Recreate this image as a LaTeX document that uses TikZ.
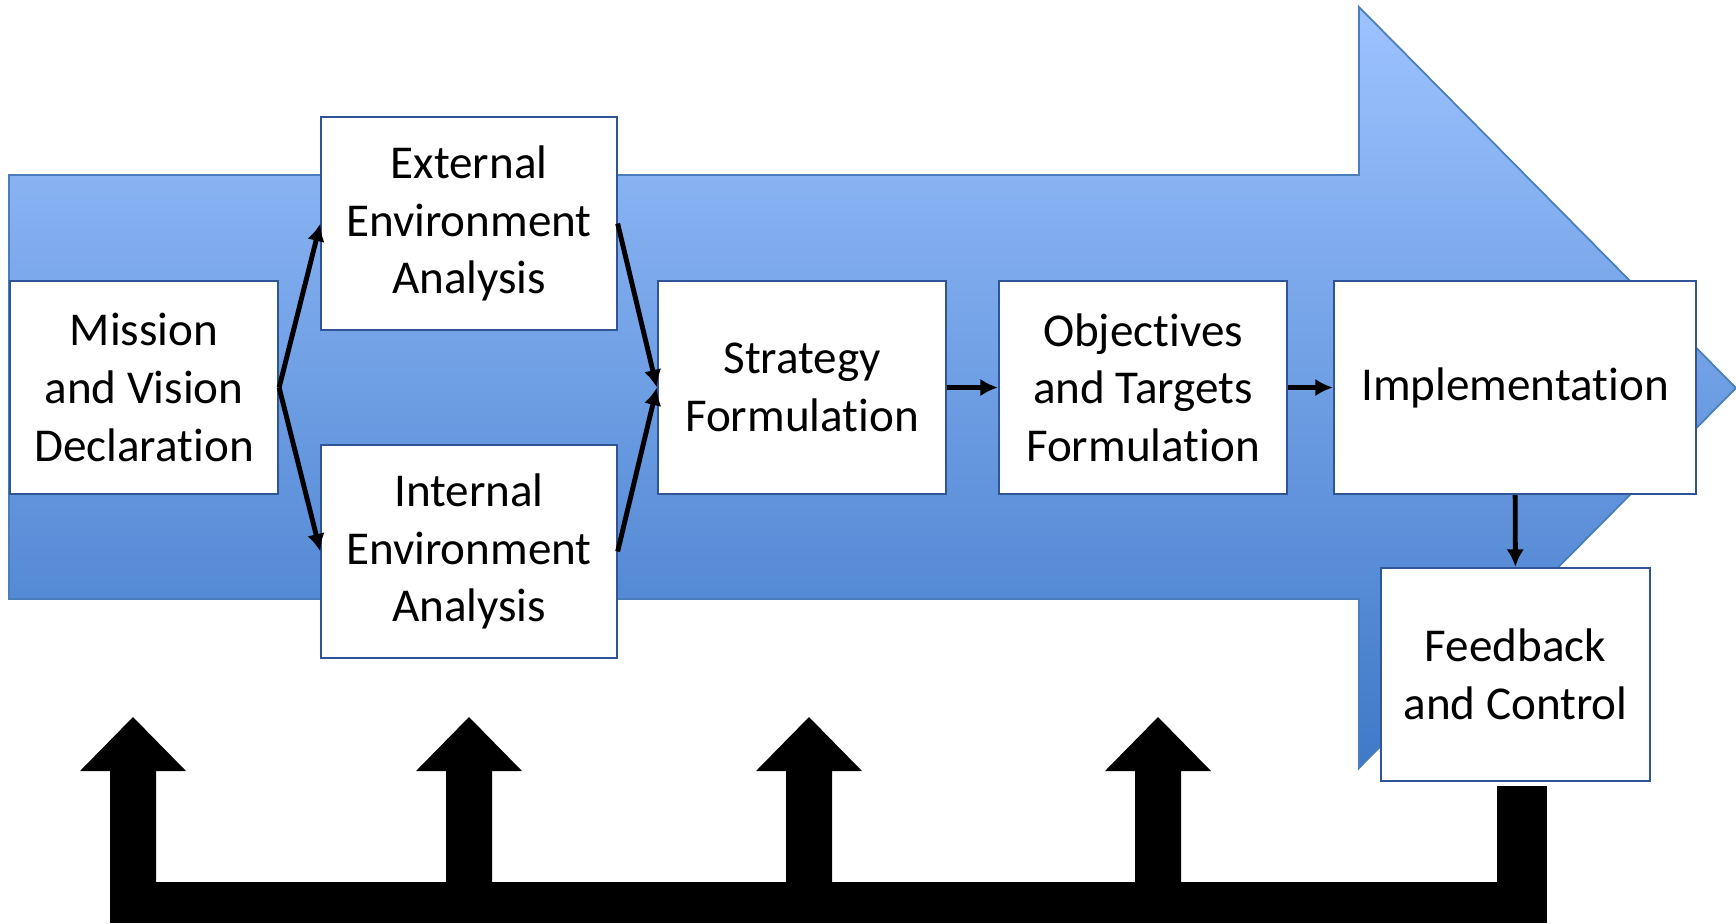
\documentclass[tikz,border=0pt]{standalone}
\usepackage{fontspec}
\setmainfont[Ligatures={NoCommon,NoRare}]{Carlito}
\usetikzlibrary{arrows.meta}
\definecolor{arrowtop}{HTML}{9DC3FF}
\definecolor{arrowbot}{HTML}{3F79C8}
\definecolor{arrowedge}{HTML}{4A7EBB}
\definecolor{boxedge}{HTML}{2F5597}
\newcommand{\noti}{t\kern0pt i}
\tikzset{
  stage/.style={draw=boxedge,line width=0.6pt,fill=white,minimum height=2.13cm,align=center,inner sep=0pt,font=\fontsize{13.4}{16.4}\selectfont},
  flow/.style={-{Latex[length=5pt,width=5pt]},line width=1.4pt},
}
\begin{document}
\begin{tikzpicture}[x=0.01cm,y=-0.01cm]
\useasboundingbox (0,0) rectangle (1736,923);
% big arrow
\shade[top color=arrowtop,bottom color=arrowbot,draw=arrowedge,line width=0.5pt]
  (9,175) -- (1359,175) -- (1359,7) -- (1736,388) -- (1359,768) -- (1359,599) -- (9,599) -- cycle;
\node[stage,minimum width=2.68cm] (mission) at (144,387.5) {Mission\\and Vision\\Declara\noti on};
\node[stage,minimum width=2.95cm] (external) at (469,223.5) {External\\Environment\\Analysis};
\node[stage,minimum width=2.95cm] (internal) at (469,551.5) {Internal\\Environment\\Analysis};
\node[stage,minimum width=2.88cm] (strategy) at (802,387.5) {Strategy\\Formula\noti on};
\node[stage,minimum width=2.88cm] (objectives) at (1143,387.5) {Objec\noti ves\\and Targets\\Formula\noti on};
\node[stage,minimum width=3.62cm] (implement) at (1515,387.5) {Implementa\noti on};
\node[stage,minimum width=2.69cm] (feedback) at (1515.5,674.5) {Feedback\\and Control};
\draw[flow] (mission.east) -- (external.west);
\draw[flow] (mission.east) -- (internal.west);
\draw[flow] (external.east) -- (strategy.west);
\draw[flow] (internal.east) -- (strategy.west);
\draw[flow] (strategy) -- (objectives);
\draw[flow] (objectives) -- (implement);
\draw[flow] (implement) -- (feedback);
% feedback loop
\foreach \x in {133,469,809,1158}
  \fill (\x-23,882) -- (\x-23,771) -- (\x-53,771) -- (\x,717) -- (\x+53,771) -- (\x+23,771) -- (\x+23,882) -- cycle;
\fill (110,882) rectangle (1547,923);
\fill (1497,786) rectangle (1547,882);
\end{tikzpicture}
\end{document}
